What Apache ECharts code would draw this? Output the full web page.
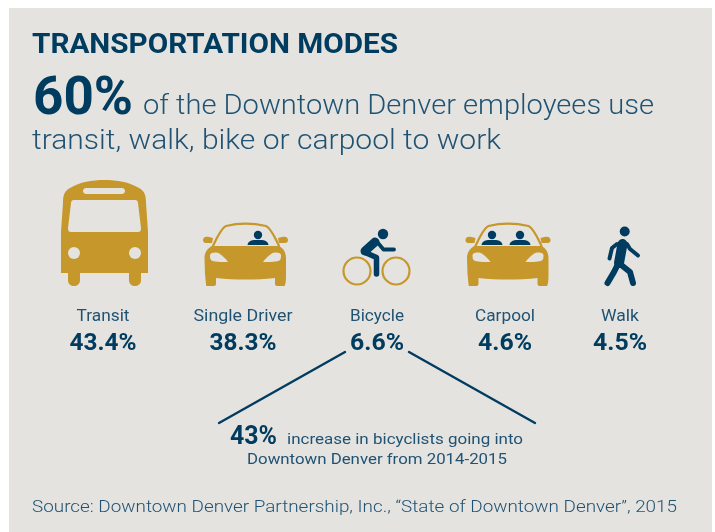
<!DOCTYPE html>
<html>
<head>
<meta charset="utf-8">
<style>
  html, body { margin: 0; padding: 0; background: #fff; }
  #main { width: 715px; height: 532px; }
</style>
<script src="https://cdn.jsdelivr.net/npm/echarts@6/dist/echarts.min.js"></script>
</head>
<body>
<div id="main"></div>
<script>
const heading = 'TRANSPORTATION MODES';
const headlineShare = 60;
const headlineLines = ['of the Downtown Denver employees use', 'transit, walk, bike or carpool to work'];
const modes = ['Transit', 'Single Driver', 'Bicycle', 'Carpool', 'Walk'];
const shares = [43.4, 38.3, 6.6, 4.6, 4.5];
const bikeIncrease = 43;
const bikeNote = ['increase in bicyclists going into', 'Downtown Denver from 2014-2015'];
const source = 'Source: Downtown Denver Partnership, Inc., \u201cState of Downtown Denver\u201d, 2015';

const BG = '#e4e3df';
const GOLD = '#c6972b';
const NAVY = '#003c60';
const SLATE = '#1f5273';
const FONT = 'Roboto';

const modeCentres = [103, 243, 377, 505, 620];

const measure = document.createElement('canvas').getContext('2d');

// stretches the text to the width it has in the picture, the font here is narrower than the original
function label(text, x, baseline, size, weight, color, width, align) {
    measure.font = weight + ' ' + size + 'px ' + FONT;
    const el = {
        type: 'text',
        x: x,
        y: baseline - size * 0.77,
        style: {
            text: text,
            fontFamily: FONT,
            fontSize: size,
            fontWeight: weight,
            fill: color,
            align: align || 'left',
            verticalAlign: 'top'
        }
    };
    if (width) {
        el.scaleX = width / measure.measureText(text).width;
    }
    return el;
}

// the graphic component has no plain path type, so each icon part is registered as a shape
let shapeCount = 0;
function pathType(pathData) {
    const name = 'iconPart' + shapeCount++;
    echarts.graphic.registerShape(name, echarts.graphic.extendPath(pathData));
    return name;
}

function shape(pathData, fill, x) {
    return { type: pathType(pathData), x: x || 0, style: { fill: fill } };
}

function stroke(pathData, color, width, x) {
    return {
        type: pathType(pathData),
        x: x || 0,
        style: { fill: null, stroke: color, lineWidth: width, lineCap: 'round', lineJoin: 'round' }
    };
}

function dot(cx, cy, r, color) {
    return { type: 'circle', shape: { cx: cx, cy: cy, r: r }, style: { fill: color } };
}

function ring(cx, cy, r, color, width) {
    return { type: 'circle', shape: { cx: cx, cy: cy, r: r }, style: { fill: null, stroke: color, lineWidth: width } };
}

function busIcon() {
    return [
        shape('M61 273 L61 232 L63 203 C63 196 64 191 70 188 C80 182 92 180 104.5 180 C117 180 129 182 139 188 C145 191 146 196 146 203 L148 232 L148 273 L141 273 L141 280 C141 284 138 286 135 286 C132 286 129 284 129 280 L129 273 L80 273 L80 280 C80 284 77 286 74 286 C71 286 68 284 68 280 L68 273 Z', GOLD),
        shape('M74 200 L135 200 C137 200 138 201 138 203 L141 228 C141 231 140 232 138 232 L71 232 C69 232 68 231 68 228 L71 203 C71 201 72 200 74 200 Z', BG),
        shape('M86 188 L122 188 C126 188 126 194 122 194 L86 194 C82 194 82 188 86 188 Z', BG),
        dot(74, 253, 6, BG),
        dot(135, 253, 6, BG)
    ];
}

function carBody(dx) {
    return [
        stroke('M213 246 C218 235 222 228 226 226 C238 223 253 223 266 226 C270 228 274 235 279 246', GOLD, 2.2, dx),
        shape('M203 240 C203 237 206 236 209 237 L213 238 L212 243 L206 243 C204 243 203 242 203 240 Z', GOLD, dx),
        shape('M288 240 C288 237 285 236 282 237 L278 238 L279 243 L285 243 C287 243 288 242 288 240 Z', GOLD, dx),
        shape('M212 246 L279 246 C283 248 286 252 286 258 L286 274 C286 278 286 282 285 285 C285 286 284 286 283 286 L277 286 C276 286 275 285 275 284 L275 278 C255 280 236 280 216 278 L216 284 C216 285 215 286 214 286 L207 286 C206 286 206 285 206 284 L205 274 L204.5 258 C204.5 252 208 248 212 246 Z', GOLD, dx),
        shape('M210 255 C211 252 217 252 220 254 C223 256 226 259 228 262 C222 262 213 262 211 260 C210 259 210 257 210 255 Z', BG, dx),
        shape('M281 255 C280 252 274 252 271 254 C268 256 265 259 263 262 C269 262 278 262 280 260 C281 259 281 257 281 255 Z', BG, dx)
    ];
}

function driver(cx) {
    return [
        dot(cx, 235, 4.2, NAVY),
        shape('M' + (cx - 10.5) + ' 245 C' + (cx - 10) + ' 241 ' + (cx - 6) + ' 240 ' + (cx - 3) + ' 240 L' + (cx + 3) + ' 240 C' + (cx + 6) + ' 240 ' + (cx + 10) + ' 241 ' + (cx + 10.5) + ' 245 Z', NAVY)
    ];
}

function bikeIcon() {
    return [
        ring(357, 271, 13.5, GOLD, 2.2),
        ring(396, 271, 13.5, GOLD, 2.2),
        dot(383, 234, 5.2, NAVY),
        stroke('M375 242 L365 251', NAVY, 9),
        stroke('M364 252 L376.5 257.5 L376.5 274', NAVY, 5.5),
        stroke('M378 243 L383.5 249.5 L394 249.5', NAVY, 3.8)
    ];
}

function walkIcon() {
    return [
        dot(624.7, 231.5, 5, NAVY),
        stroke('M622.5 244 L619 263', NAVY, 10),
        stroke('M617 244 L612 248 L609.5 258.5', NAVY, 4),
        stroke('M627 244 L630 249 L638 255.5', NAVY, 4),
        stroke('M618 264 L614 272 L607.5 283', NAVY, 6),
        stroke('M620 264 L630 272 L633 283', NAVY, 6)
    ];
}

// widths of each mode label / share figure in the picture
const modeWidths = [53, 99, 54, 60, 38];
const shareWidths = [67, 67, 54, 54, 54];

const modeLabels = [];
modes.forEach(function (name, i) {
    modeLabels.push(label(name, modeCentres[i], 321, 16, 400, SLATE, modeWidths[i], 'center'));
    modeLabels.push(label(shares[i].toFixed(1) + '%', modeCentres[i], 350, 24, 700, NAVY, shareWidths[i], 'center'));
});

const myChart = echarts.init(document.getElementById('main'), null, { renderer: 'canvas' });

myChart.setOption({
    animation: false,
    backgroundColor: '#ffffff',
    graphic: {
        elements: [
            { type: 'rect', shape: { x: 9, y: 8, width: 703, height: 524 }, style: { fill: BG } },
            label(heading, 32, 54, 27, 700, NAVY, 366),
            label(headlineShare + '%', 33, 115, 54, 700, NAVY, 100),
            label(headlineLines[0], 143, 115, 28, 300, SLATE, 511),
            label(headlineLines[1], 32, 150, 28, 300, SLATE, 469)
        ].concat(
            busIcon(),
            carBody(0),
            driver(258),
            bikeIcon(),
            carBody(262.5),
            driver(492),
            driver(520),
            walkIcon(),
            modeLabels,
            [
                stroke('M219 423 L345 352', NAVY, 2.4),
                stroke('M409 352 L535 423', NAVY, 2.4),
                label(bikeIncrease + '%', 230, 444, 25, 700, NAVY, 47),
                label(bikeNote[0], 287, 444, 15, 400, SLATE, 236),
                label(bikeNote[1], 377, 464, 15, 400, SLATE, 260, 'center'),
                label(source, 32, 512, 17, 300, SLATE, 645)
            ]
        )
    }
});
</script>
</body>
</html>
